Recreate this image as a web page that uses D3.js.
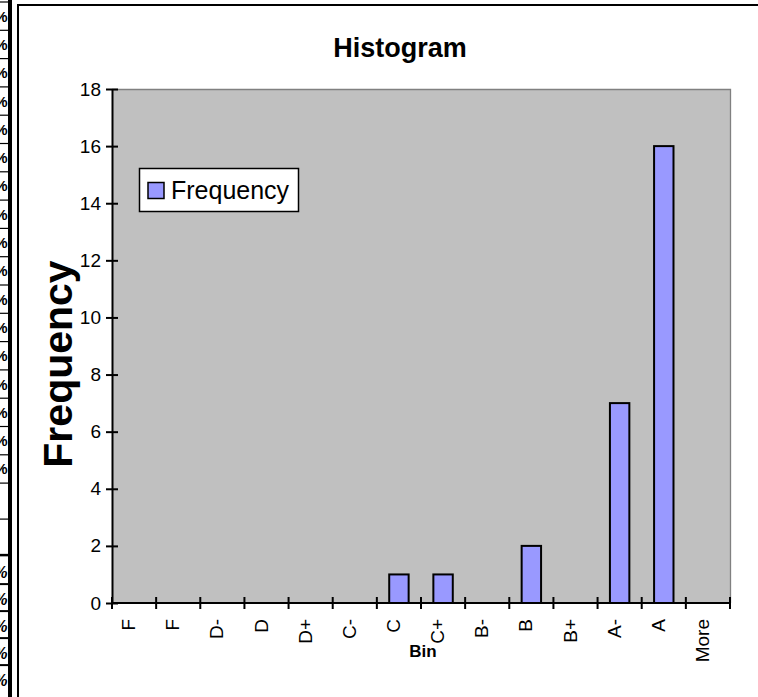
<!DOCTYPE html>
<html>
<head>
<meta charset="utf-8">
<script src="https://cdn.jsdelivr.net/npm/d3@7"></script>
<style>
  html, body { margin: 0; padding: 0; background: #fff; overflow: hidden; }
  svg { display: block; overflow: hidden; }
  text { font-family: "Liberation Sans", Arial, sans-serif; }
</style>
</head>
<body>
<svg id="chart" width="758" height="697"></svg>
<script>
// ---- data ----
const bins = ["F", "F ", "D-", "D", "D+", "C-", "C", "C+", "B-", "B", "B+", "A-", "A", "More"];
const binLabels = ["F", "F", "D-", "D", "D+", "C-", "C", "C+", "B-", "B", "B+", "A-", "A", "More"];
const frequency = [0, 0, 0, 0, 0, 0, 1, 1, 0, 2, 0, 7, 16, 0];
const yTicks = [0, 2, 4, 6, 8, 10, 12, 14, 16, 18];
const chartTitle = "Histogram";
const xTitle = "Bin";
const yTitle = "Frequency";
const seriesName = "Frequency";
// spreadsheet fragment visible at left edge
const topCellRows = d3.range(17);
const bottomCellRows = d3.range(5);

const svg = d3.select("#chart");

// ---- left spreadsheet strip ----
const strip = svg.append("g");
const topRowH = 28.3;
topCellRows.forEach(i => {
  const y0 = 2 + i * topRowH;
  strip.append("line").attr("x1", 0).attr("x2", 9).attr("y1", y0).attr("y2", y0)
    .attr("stroke", "#000").attr("stroke-width", 1.2);
  strip.append("text").attr("x", 7.5).attr("y", y0 + topRowH / 2)
    .attr("text-anchor", "end").attr("dominant-baseline", "central")
    .attr("font-size", 15).attr("font-weight", "bold").text("%");
});
const topEnd = 2 + topCellRows.length * topRowH;
[topEnd, topEnd + 36, topEnd + 72].forEach((y, k) => {
  strip.append("line").attr("x1", 0).attr("x2", 9).attr("y1", y).attr("y2", y)
    .attr("stroke", "#000").attr("stroke-width", k === 2 ? 2.5 : 1.2);
});
const botStart = topEnd + 74;
const botRowH = 27;
bottomCellRows.forEach(i => {
  const y0 = botStart + i * botRowH;
  if (i > 0) strip.append("line").attr("x1", 0).attr("x2", 9).attr("y1", y0).attr("y2", y0)
    .attr("stroke", "#000").attr("stroke-width", 2);
  strip.append("text").attr("x", 7.5).attr("y", y0 + botRowH / 2 + 2)
    .attr("text-anchor", "end").attr("dominant-baseline", "central")
    .attr("font-size", 16).attr("font-weight", "bold").attr("font-style", "italic").text("%");
});
strip.append("rect").attr("x", 8).attr("y", 0).attr("width", 4).attr("height", 697).attr("fill", "#000");

// ---- chart frame (top and left edges only visible) ----
svg.append("path").attr("d", "M18,697V5H758")
  .attr("fill", "none").attr("stroke", "#000").attr("stroke-width", 2);

// ---- plot area ----
const plot = { left: 112, right: 730, top: 89, bottom: 603 };
const x = d3.scaleBand().domain(bins).range([plot.left, plot.right]).paddingInner(0).paddingOuter(0);
const y = d3.scaleLinear().domain([0, 18]).range([plot.bottom, plot.top]);

svg.append("rect").attr("x", plot.left).attr("y", plot.top)
  .attr("width", plot.right - plot.left).attr("height", plot.bottom - plot.top)
  .attr("fill", "#c0c0c0");
svg.append("path")
  .attr("d", `M${plot.left},${plot.top + 0.5}H${plot.right + 0.5}V${plot.bottom}`)
  .attr("fill", "none").attr("stroke", "#808080").attr("stroke-width", 1.3);

// bars
const barW = x.bandwidth() * 0.44;
svg.append("g").selectAll("rect")
  .data(bins.map((b, i) => ({ b, v: frequency[i] })).filter(d => d.v > 0))
  .join("rect")
  .attr("x", d => x(d.b) + x.bandwidth() / 2 - barW / 2)
  .attr("y", d => y(d.v))
  .attr("width", barW)
  .attr("height", d => y(0) - y(d.v))
  .attr("fill", "#9999ff").attr("stroke", "#000").attr("stroke-width", 2);

// y axis
const yAxis = svg.append("g").attr("transform", `translate(${plot.left},0)`)
  .call(d3.axisLeft(y).tickValues(yTicks).tickSize(6).tickPadding(5).tickSizeOuter(0));
yAxis.select(".domain").attr("stroke", "#000").attr("stroke-width", 2);
yAxis.selectAll(".tick line").attr("stroke", "#000").attr("stroke-width", 2).attr("x2", -6).attr("x1", 6);
yAxis.selectAll(".tick text").attr("font-size", 19).attr("fill", "#000")
  .attr("font-family", "Liberation Sans, Arial, sans-serif");

// x axis
const xEdges = d3.range(bins.length + 1).map(i => plot.left + i * x.bandwidth());
const xAxisG = svg.append("g");
xAxisG.append("line").attr("x1", plot.left - 1).attr("x2", plot.right + 1)
  .attr("y1", plot.bottom).attr("y2", plot.bottom).attr("stroke", "#000").attr("stroke-width", 2);
xAxisG.selectAll("line.tk").data(xEdges).join("line").attr("class", "tk")
  .attr("x1", d => d).attr("x2", d => d).attr("y1", plot.bottom - 6).attr("y2", plot.bottom + 6)
  .attr("stroke", "#000").attr("stroke-width", 2);
xAxisG.selectAll("text").data(bins).join("text")
  .attr("transform", d => `translate(${x(d) + x.bandwidth() / 2 + 1},619) rotate(-90)`)
  .attr("text-anchor", "end").attr("font-size", 19)
  .text((d, i) => binLabels[i]);

// titles
svg.append("text").attr("x", 400).attr("y", 57).attr("text-anchor", "middle")
  .attr("font-size", 27).attr("font-weight", "bold").text(chartTitle);
svg.append("text").attr("x", 423).attr("y", 657).attr("text-anchor", "middle")
  .attr("font-size", 17).attr("font-weight", "bold").text(xTitle);
svg.append("text").attr("transform", "translate(72,364) rotate(-90)").attr("text-anchor", "middle")
  .attr("font-size", 41).attr("font-weight", "bold").text(yTitle);

// legend
const lg = svg.append("g");
lg.append("rect").attr("x", 139.5).attr("y", 168.5).attr("width", 159).attr("height", 43)
  .attr("fill", "#fff").attr("stroke", "#000").attr("stroke-width", 1.5);
lg.append("rect").attr("x", 148).attr("y", 182.5).attr("width", 16).attr("height", 16)
  .attr("fill", "#9999ff").attr("stroke", "#000").attr("stroke-width", 1.5);
lg.append("text").attr("x", 171).attr("y", 199).attr("font-size", 25).text(seriesName);
</script>
</body>
</html>
